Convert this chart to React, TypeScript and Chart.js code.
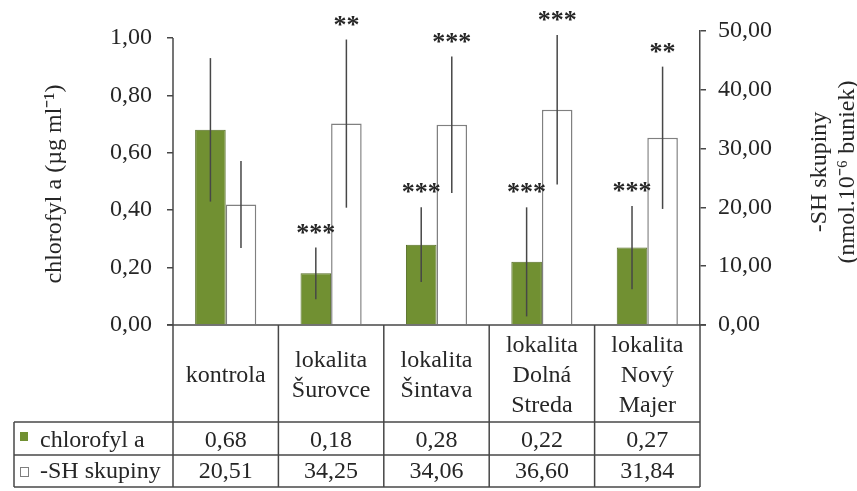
import React, { useEffect, useRef } from 'react';
import { Chart, registerables } from 'chart.js';

Chart.register(...registerables);

const categories: string[][] = [
  ['kontrola'],
  ['lokalita', 'Šurovce'],
  ['lokalita', 'Šintava'],
  ['lokalita', 'Dolná', 'Streda'],
  ['lokalita', 'Nový', 'Majer'],
];
const chlorofyl = [0.68, 0.18, 0.28, 0.22, 0.27];
const chlorofylErr = [0.25, 0.09, 0.13, 0.19, 0.145];
const chlorofylSig = ['', '***', '***', '***', '***'];
const shSkupiny = [20.51, 34.25, 34.06, 36.6, 31.84];
const shErr = [7.4, 14.3, 11.6, 12.7, 12.1];
const shSig = ['', '**', '***', '***', '**'];
const chlorofylLabels = ['0,68', '0,18', '0,28', '0,22', '0,27'];
const shLabels = ['20,51', '34,25', '34,06', '36,60', '31,84'];
const seriesNames = ['chlorofyl a', '-SH skupiny'];
const leftTitle = 'chlorofyl a (µg ml⁻¹)';
const rightTitle = ['-SH skupiny', '(nmol.10⁻⁶ buniek)'];

const FONT = '"Liberation Serif", "Times New Roman", serif';
const TEXT = '#262626';
const LINE = '#474747';
const GREEN = '#719032';

const customPlugin = {
  id: 'customDraw',
  afterDraw(chart: any) {
    const ctx = chart.ctx as CanvasRenderingContext2D;
    const ca = chart.chartArea;
    const ys = chart.scales.y;
    const ys1 = chart.scales.y1;
    const n = categories.length;
    const cw = (ca.right - ca.left) / n;
    const bottom = ca.bottom;
    const line = (x1: number, y1: number, x2: number, y2: number) => {
      ctx.beginPath();
      ctx.moveTo(x1, y1);
      ctx.lineTo(x2, y2);
      ctx.stroke();
    };
    ctx.save();
    ctx.strokeStyle = LINE;
    ctx.lineWidth = 1.5;
    // left axis line
    line(ca.left, ys.getPixelForValue(1), ca.left, bottom);
    // x axis line
    line(ca.left - 6, bottom, ca.right + 6, bottom);

    // error bars
    const drawErr = (di: number, vals: number[], errs: number[], sig: string[], scale: any) => {
      const meta = chart.getDatasetMeta(di);
      meta.data.forEach((bar: any, j: number) => {
        const yt = scale.getPixelForValue(vals[j] + errs[j]);
        const yb = scale.getPixelForValue(vals[j] - errs[j]);
        ctx.strokeStyle = LINE;
        ctx.lineWidth = 1.5;
        line(bar.x, yt, bar.x, yb);
        if (sig[j]) {
          ctx.fillStyle = TEXT;
          ctx.font = `bold 26px ${FONT}`;
          ctx.textAlign = 'center';
          ctx.textBaseline = 'alphabetic';
          ctx.fillText(sig[j], bar.x, yt - 7);
        }
      });
    };
    drawErr(0, chlorofyl, chlorofylErr, chlorofylSig, ys);
    drawErr(1, shSkupiny, shErr, shSig, ys1);

    // table
    const r1 = bottom + 97;
    const r2 = bottom + 130;
    const r3 = bottom + 162;
    const tableLeft = 14;
    ctx.strokeStyle = LINE;
    ctx.lineWidth = 1.5;
    for (let i = 0; i <= n; i++) {
      const x = ca.left + i * cw;
      line(x, bottom, x, r3);
    }
    line(tableLeft, r1, ca.right, r1);
    line(tableLeft, r2, ca.right, r2);
    line(tableLeft, r3, ca.right, r3);
    line(tableLeft, r1, tableLeft, r3);

    ctx.fillStyle = TEXT;
    ctx.font = `24px ${FONT}`;
    ctx.textAlign = 'center';
    ctx.textBaseline = 'middle';
    const hc = bottom + 51;
    categories.forEach((lines, i) => {
      const cx = ca.left + (i + 0.5) * cw;
      lines.forEach((t, k) => {
        ctx.fillText(t, cx, hc + (k - (lines.length - 1) / 2) * 30);
      });
      ctx.fillText(chlorofylLabels[i], cx, bottom + 116);
      ctx.fillText(shLabels[i], cx, bottom + 147);
    });
    // row labels with legend keys
    ctx.textAlign = 'left';
    ctx.fillText(seriesNames[0], 40, bottom + 116);
    ctx.fillText(seriesNames[1], 40, bottom + 147);
    ctx.fillStyle = GREEN;
    ctx.fillRect(20, bottom + 107, 8, 9);
    ctx.fillStyle = '#fff';
    ctx.fillRect(20, bottom + 142, 8, 9);
    ctx.strokeStyle = '#7f7f7f';
    ctx.lineWidth = 1;
    ctx.strokeRect(20.5, bottom + 142.5, 8, 9);

    // axis titles
    ctx.fillStyle = TEXT;
    ctx.font = `24px ${FONT}`;
    ctx.textAlign = 'center';
    ctx.textBaseline = 'middle';
    ctx.save();
    ctx.translate(55, 184);
    ctx.rotate(-Math.PI / 2);
    ctx.fillText(leftTitle, 0, 0);
    ctx.restore();
    ctx.save();
    ctx.translate(820, 172);
    ctx.rotate(-Math.PI / 2);
    ctx.fillText(rightTitle[0], 0, 0);
    ctx.fillText(rightTitle[1], 0, 28);
    ctx.restore();
    ctx.restore();
  },
};

export default function App() {
  const ref = useRef<HTMLCanvasElement>(null);
  useEffect(() => {
    if (!ref.current) return;
    const fmt = (v: any) => Number(v).toFixed(2).replace('.', ',');
    const chart = new Chart(ref.current, {
      type: 'bar',
      data: {
        labels: categories.map((c) => c.join(' ')),
        datasets: [
          {
            label: seriesNames[0],
            data: chlorofyl,
            yAxisID: 'y',
            backgroundColor: GREEN,
            borderColor: '#556d25',
            borderWidth: 1,
            categoryPercentage: 0.58,
            barPercentage: 1.0,
          },
          {
            label: seriesNames[1],
            data: shSkupiny,
            yAxisID: 'y1',
            backgroundColor: '#ffffff',
            borderColor: '#808080',
            borderWidth: 1.5,
            categoryPercentage: 0.58,
            barPercentage: 1.0,
          },
        ],
      },
      options: {
        responsive: false,
        animation: false,
        layout: { padding: { top: 31, bottom: 166, left: 0, right: 0 } },
        plugins: { legend: { display: false }, tooltip: { enabled: false } },
        scales: {
          x: { display: false },
          y: {
            position: 'left',
            min: 0,
            max: 1.0244,
            ticks: {
              stepSize: 0.2,
              includeBounds: false,
              padding: 15,
              color: TEXT,
              font: { family: FONT, size: 24 },
              callback: (v: any) => fmt(v),
            },
            grid: { drawOnChartArea: false, drawTicks: true, tickLength: 6, color: LINE, lineWidth: 1.5 },
            border: { display: false },
            afterFit: (s: any) => {
              s.width = 173;
            },
          },
          y1: {
            position: 'right',
            min: 0,
            max: 50,
            ticks: {
              stepSize: 10,
              padding: 12,
              color: TEXT,
              font: { family: FONT, size: 24 },
              callback: (v: any) => fmt(v),
            },
            grid: { drawOnChartArea: false, drawTicks: true, tickLength: 6, color: LINE, lineWidth: 1.5 },
            border: { display: true, color: LINE, width: 1.5 },
            afterFit: (s: any) => {
              s.width = 157;
            },
          },
        },
      },
      plugins: [customPlugin],
    } as any);
    return () => chart.destroy();
  }, []);
  return (
    <div style={{ position: 'fixed', left: 0, top: 0, width: 857, height: 491, background: '#fff' }}>
      <canvas ref={ref} width={857} height={491} style={{ display: 'block' }} />
    </div>
  );
}
